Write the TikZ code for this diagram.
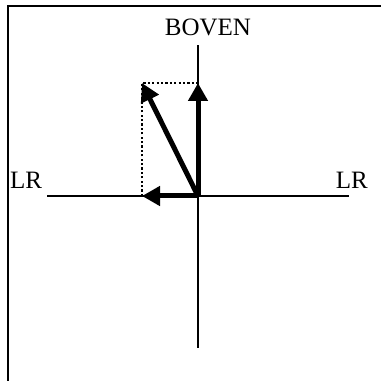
\documentclass[tikz,border=0pt]{standalone}
\usepackage{fontspec}
\setmainfont{Liberation Serif}
\usetikzlibrary{arrows.meta}

\begin{document}
\begin{tikzpicture}[x=1pt,y=1pt,line join=miter,
  axis/.style={line width=2.4pt,black},
  vec/.style={-{Triangle[length=18pt,width=19pt]},line width=5pt},
  help/.style={line width=2.2pt,dash pattern=on 2.2pt off 2.2pt},
  lbl/.style={font=\fontsize{25}{25}\selectfont,inner sep=0pt}]
\useasboundingbox (0,0) rectangle (381,381);
\clip (0,0) rectangle (381,381);
\draw[line width=2.4pt] (8,-10) -- (8,375) -- (395,375);
% assen
\coordinate (O) at (198,185);
\coordinate (top) at (198,336);
\coordinate (bot) at (198,33);
\coordinate (lft) at (47,185);
\coordinate (rgt) at (349,185);
% vectoren
\coordinate (up) at (198,298);
\coordinate (side) at (142,185);
\coordinate (res) at (142,298);
\draw[help] (side) -- (res) -- (up);
\draw[axis] (bot) -- (top);
\draw[axis] (lft) -- (rgt);
\node[lbl,anchor=base] (boven) at (208,345) {BOVEN};
\node[lbl,anchor=base west] (lrl) at (10,192) {LR};
\node[lbl,anchor=base east] (lrr) at (368,192) {LR};
\draw[vec] (O) -- (up);
\draw[vec] (O) -- (side);
\draw[vec] (O) -- (res);
\end{tikzpicture}
\end{document}
